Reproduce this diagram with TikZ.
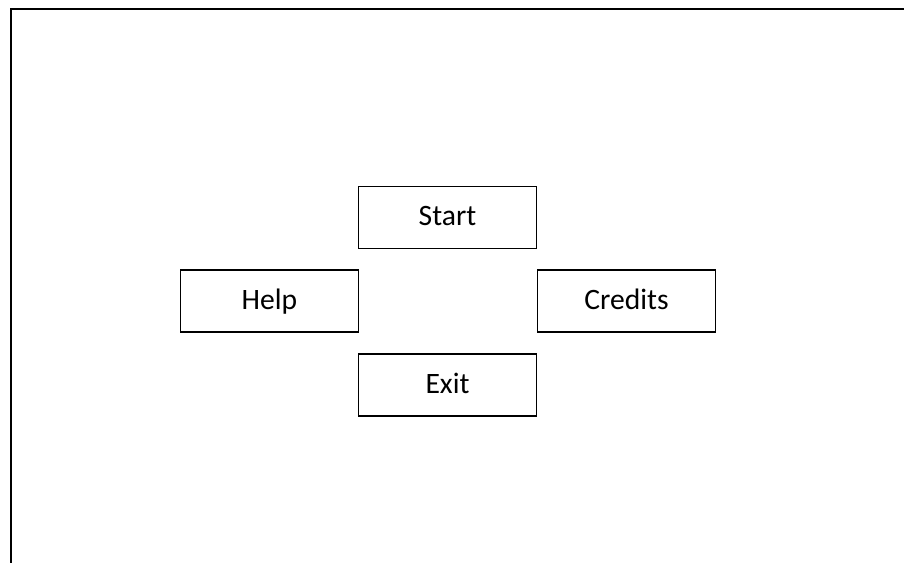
\documentclass[tikz,border=0pt]{standalone}
\usepackage{fontspec}
\setmainfont{Carlito}
\usetikzlibrary{positioning}

\begin{document}
\begin{tikzpicture}[x=0.5pt, y=-0.5pt, menubox/.style={draw, rectangle, line width=0.7pt, minimum width=89pt, minimum height=31pt, font=\fontsize{14.8}{18}\selectfont, text height=0.8em, text depth=0pt}]
		\useasboundingbox (0, 0) rectangle (904, 563);
		\draw[line width=1.1pt] (904, 9) -- (11, 9) -- (11, 563);
		
		\node[menubox] (start) at (447.5, 217.5) {Start};
		\node[menubox] (help) at (269.5, 301) {Help};
		\node[menubox] (credits) at (626.5, 301) {Credits};
		\node[menubox] (exit) at (447.5, 385) {Exit};
		
	\end{tikzpicture}
\end{document}
